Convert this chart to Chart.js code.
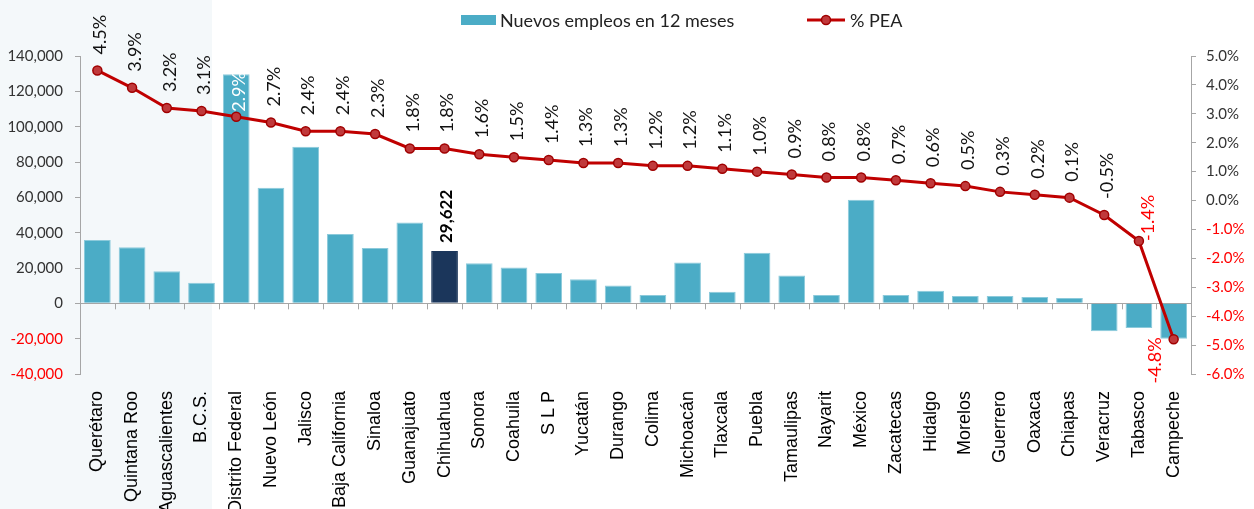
<!DOCTYPE html>
<html>
<head>
<meta charset="utf-8">
<script src="https://cdn.jsdelivr.net/npm/chart.js@4.4.1/dist/chart.umd.min.js"></script>
<style>
  html, body { margin: 0; padding: 0; background: #fff; }
  #wrap { width: 1254px; height: 509px; position: relative; }
</style>
</head>
<body>
<div id="wrap"><canvas id="myChart"></canvas></div>
<script>
const estados = ['Querétaro', 'Quintana Roo', 'Aguascalientes', 'B.C.S.', 'Distrito Federal', 'Nuevo León', 'Jalisco', 'Baja California', 'Sinaloa', 'Guanajuato', 'Chihuahua', 'Sonora', 'Coahuila', 'S L P', 'Yucatán', 'Durango', 'Colima', 'Michoacán', 'Tlaxcala', 'Puebla', 'Tamaulipas', 'Nayarit', 'México', 'Zacatecas', 'Hidalgo', 'Morelos', 'Guerrero', 'Oaxaca', 'Chiapas', 'Veracruz', 'Tabasco', 'Campeche'];
const empleos = [35800, 31700, 18200, 11600, 129600, 65400, 88600, 39200, 31300, 45800, 29622, 22700, 20300, 17100, 13700, 10100, 4700, 23100, 6500, 28700, 15800, 4700, 58600, 4700, 7100, 4100, 4100, 3600, 3000, -15800, -13900, -20100];
const pea = [4.5, 3.9, 3.2, 3.1, 2.9, 2.7, 2.4, 2.4, 2.3, 1.8, 1.8, 1.6, 1.5, 1.4, 1.3, 1.3, 1.2, 1.2, 1.1, 1.0, 0.9, 0.8, 0.8, 0.7, 0.6, 0.5, 0.3, 0.2, 0.1, -0.5, -1.4, -4.8];
const empleosTicks = [-40000, -20000, 0, 20000, 40000, 60000, 80000, 100000, 120000, 140000];
const peaTicks = [-6, -5, -4, -3, -2, -1, 0, 1, 2, 3, 4, 5];

const destacado = 'Chihuahua';
const sombreados = 4; // first states in the shaded block
// where the % label sits, by index (default: above the point)
const labelPlacement = { 4: 'inside', 30: 'right', 31: 'left' };

const BAR = '#4bacc6';
const BAR_DARK = '#1b365b';
const LINE = '#c00000';
const AXIS = '#a6a6a6';
const NEG = '#ff0000';

const extras = {
    id: 'extras',
    beforeDraw(chart) {
        const { ctx, scales: { x } } = chart;
        const step = x.getPixelForValue(1) - x.getPixelForValue(0);
        const right = x.getPixelForValue(sombreados - 1) + step * 0.3;
        ctx.save();
        ctx.fillStyle = '#f4f8fa';
        ctx.fillRect(0, 0, right, chart.height);
        ctx.restore();
    },
    beforeDatasetsDraw(chart) {
        const { ctx, scales: { x, y } } = chart;
        const y0 = y.getPixelForValue(0);
        const step = x.getPixelForValue(1) - x.getPixelForValue(0);
        ctx.save();
        ctx.strokeStyle = AXIS;
        ctx.lineWidth = 1;
        ctx.beginPath();
        for (let i = 1; i < estados.length; i++) {
            const px = Math.round(x.getPixelForValue(i) - step / 2) + 0.5;
            ctx.moveTo(px, y0);
            ctx.lineTo(px, y0 + 6);
        }
        ctx.stroke();
        ctx.restore();
    },
    afterDatasetsDraw(chart) {
        const ctx = chart.ctx;
        const bars = chart.getDatasetMeta(0).data;
        const pts = chart.getDatasetMeta(1).data;
        ctx.save();
        ctx.textBaseline = 'middle';

        // % labels, rotated
        ctx.font = '18px Lato';
        pts.forEach((pt, i) => {
            const v = pea[i];
            const txt = v.toFixed(1) + '%';
            const place = labelPlacement[i] || 'above';
            let lx = pt.x + 3, ly = pt.y - 16, align = 'left';
            ctx.fillStyle = v < -1 ? NEG : '#111';
            if (place === 'inside') { ly = pt.y - 5; ctx.fillStyle = '#fff'; }
            if (place === 'right') { lx = pt.x + 9; ly = pt.y; }
            if (place === 'left') { lx = pt.x - 18; ly = pt.y - 2; align = 'right'; }
            ctx.save();
            ctx.translate(lx, ly);
            ctx.rotate(-Math.PI / 2);
            ctx.textAlign = align;
            ctx.fillText(txt, 0, 0);
            ctx.restore();
        });

        // highlighted bar value
        const hi = estados.indexOf(destacado);
        const b = bars[hi];
        ctx.font = 'bold 17px Lato';
        ctx.fillStyle = '#000';
        ctx.save();
        ctx.translate(b.x + 2, b.y - 8);
        ctx.rotate(-Math.PI / 2);
        ctx.textAlign = 'left';
        ctx.fillText(empleos[hi].toLocaleString('en-US'), 0, 0);
        ctx.restore();

        // legend
        const ds = chart.data.datasets;
        let lx = 461;
        const ly = 20;
        ctx.font = '18px Lato';
        ctx.textAlign = 'left';
        ctx.fillStyle = BAR;
        ctx.fillRect(lx, ly - 5, 35, 10);
        ctx.fillStyle = '#222';
        ctx.fillText(ds[0].label, lx + 39, ly + 1);
        lx = 807;
        ctx.strokeStyle = LINE;
        ctx.lineWidth = 3;
        ctx.beginPath();
        ctx.moveTo(lx, ly);
        ctx.lineTo(lx + 38, ly);
        ctx.stroke();
        ctx.beginPath();
        ctx.arc(lx + 19, ly, 4.5, 0, Math.PI * 2);
        ctx.fillStyle = '#c0393b';
        ctx.fill();
        ctx.lineWidth = 1.5;
        ctx.strokeStyle = '#a00000';
        ctx.stroke();
        ctx.fillStyle = '#222';
        ctx.fillText(ds[1].label, lx + 43, ly + 1);
        ctx.restore();
    }
};

const data = {
    labels: estados,
    datasets: [
        {
            type: 'bar',
            label: 'Nuevos empleos en 12 meses',
            data: empleos,
            yAxisID: 'y',
            backgroundColor: estados.map(e => e === destacado ? BAR_DARK : BAR),
            borderColor: estados.map(e => e === destacado ? BAR_DARK : '#8ccadb'),
            borderWidth: 1,
            barPercentage: 0.77,
            categoryPercentage: 1.0,
            order: 1
        },
        {
            type: 'line',
            label: '% PEA',
            data: pea,
            yAxisID: 'y1',
            borderColor: LINE,
            borderWidth: 3,
            pointRadius: 4.5,
            pointBackgroundColor: '#c0393b',
            pointBorderColor: '#a00000',
            pointBorderWidth: 1.5,
            tension: 0,
            order: 0
        }
    ]
};

const config = {
    data: data,
    options: {
        responsive: true,
        maintainAspectRatio: false,
        animation: false,
        layout: { padding: { top: 56, left: 0, right: 0, bottom: 0 } },
        plugins: {
            legend: { display: false },
            tooltip: { enabled: false }
        },
        scales: {
            x: {
                grid: { display: false, drawTicks: false },
                border: { display: false },
                ticks: {
                    autoSkip: false,
                    minRotation: 90,
                    maxRotation: 90,
                    padding: 17,
                    color: '#000',
                    font: { family: 'Liberation Sans', size: 18 }
                },
                afterFit: s => { s.height = 135; }
            },
            y: {
                position: 'left',
                min: -40000,
                max: 140000,
                afterBuildTicks: s => { s.ticks = empleosTicks.map(v => ({ value: v })); },
                grid: {
                    color: c => c.tick && c.tick.value === 0 ? AXIS : 'transparent',
                    tickColor: AXIS,
                    tickLength: 5
                },
                border: { display: true, color: AXIS },
                ticks: {
                    padding: 12,
                    color: c => c.tick.value < 0 ? NEG : '#333',
                    font: { family: 'Lato', size: 15 },
                    callback: v => v.toLocaleString('en-US')
                },
                afterFit: s => { s.width = 80; }
            },
            y1: {
                position: 'right',
                min: -6,
                max: 5,
                afterBuildTicks: s => { s.ticks = peaTicks.map(v => ({ value: v })); },
                grid: { drawOnChartArea: false, tickColor: AXIS, tickLength: 5 },
                border: { display: true, color: AXIS },
                ticks: {
                    padding: 10,
                    color: c => c.tick.value < 0 ? NEG : '#333',
                    font: { family: 'Lato', size: 15 },
                    callback: v => Number(v).toFixed(1) + '%'
                },
                afterFit: s => { s.width = 63; }
            }
        }
    },
    plugins: [extras]
};

var myChart = new Chart(document.getElementById('myChart'), config);
</script>
</body>
</html>
